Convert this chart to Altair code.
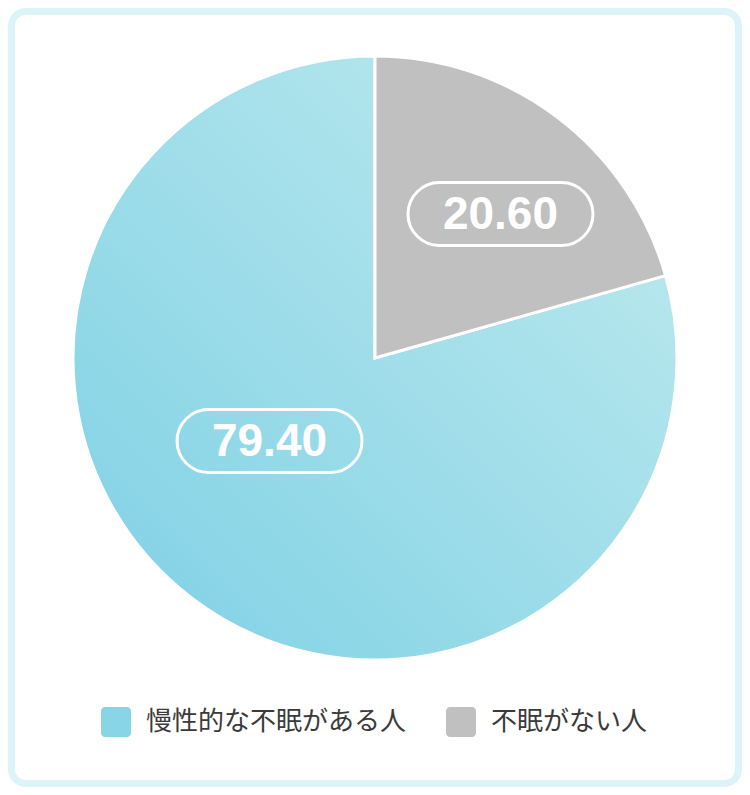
import math
import altair as alt
import pandas as pd

# ---------------- data ----------------
categories = ["慢性的な不眠がある人", "不眠がない人"]
values = [79.40, 20.60]
value_labels = ["79.40", "20.60"]
slice_order = [2, 1]          # grey slice starts at 12 o'clock
legend_colors = ["#87d5e7", "#c0c0c0"]

# ---------------- layout / style ----------------
W, H = 734, 779
CX, CY, R = 367, 350, 302
LABEL_R = 165
label_nudge = {"慢性的な不眠がある人": (-6, -48.6), "不眠がない人": (26, -12.4)}
PILL_W, PILL_H = 185, 63

grad = {
    "gradient": "linear",
    "x1": 1, "y1": 0, "x2": 0, "y2": 1,
    "stops": [
        {"offset": 0, "color": "#c2ebee"},
        {"offset": 1, "color": "#7dd0e5"},
    ],
}

df = pd.DataFrame({"category": categories, "value": values,
                   "label": value_labels, "slice_order": slice_order})

# label positions derived from the slice mid-angles
total = sum(values)
ordered = df.sort_values("slice_order")
start = 0.0
mid = {}
for _, r in ordered.iterrows():
    mid[r["category"]] = (start + r["value"] / 2) / total * 2 * math.pi
    start += r["value"]
df["lx"] = [CX + LABEL_R * math.sin(mid[c]) + label_nudge[c][0] for c in df["category"]]
df["ly"] = [CY - LABEL_R * math.cos(mid[c]) + label_nudge[c][1] for c in df["category"]]

base = alt.Chart(df)

border = alt.Chart(alt.Data(values=[{"a": 1}])).mark_rect(
    cornerRadius=14, fill="white", stroke="#dcf3f8", strokeWidth=7
).encode(x=alt.value(3.5), x2=alt.value(W - 3.5), y=alt.value(3.5), y2=alt.value(H - 3.5))

arcs = base.mark_arc(radius=R, stroke="white", strokeWidth=3).encode(
    theta=alt.Theta("value:Q", stack=True),
    order=alt.Order("slice_order:Q"),
    fill=alt.condition(alt.datum.category == categories[0],
                       alt.value(grad), alt.value("#c0c0c0")),
    x=alt.value(CX),
    y=alt.value(CY),
)

pills = base.transform_calculate(
    x0=f"datum.lx - {PILL_W / 2}", x1=f"datum.lx + {PILL_W / 2}",
    y0=f"datum.ly - {PILL_H / 2}", y1=f"datum.ly + {PILL_H / 2}",
).mark_rect(cornerRadius=PILL_H / 2, fill="white", fillOpacity=0,
            stroke="white", strokeWidth=3).encode(
    x=alt.X("x0:Q", scale=None, axis=None),
    x2="x1:Q",
    y=alt.Y("y0:Q", scale=None, axis=None),
    y2="y1:Q",
)

texts = base.mark_text(font="Liberation Sans", fontWeight="bold", fontSize=46,
                       color="white", align="center", baseline="middle", dy=1).encode(
    x=alt.X("lx:Q", scale=None, axis=None),
    y=alt.Y("ly:Q", scale=None, axis=None),
    text="label:N",
)

rounded_sq = ("M -1 -0.73 A 0.27 0.27 0 0 1 -0.73 -1 L 0.73 -1 "
              "A 0.27 0.27 0 0 1 1 -0.73 L 1 0.73 A 0.27 0.27 0 0 1 0.73 1 "
              "L -0.73 1 A 0.27 0.27 0 0 1 -1 0.73 Z")

legend_layer = base.mark_point(filled=True, opacity=0, size=1).encode(
    color=alt.Color("category:N",
                    scale=alt.Scale(domain=categories, range=legend_colors),
                    legend=alt.Legend(
                        title=None, orient="none", legendX=93, legendY=699,
                        direction="horizontal", symbolType=rounded_sq,
                        symbolSize=900, symbolOpacity=1, symbolStrokeWidth=0,
                        labelFont="Noto Sans CJK JP", labelFontSize=26,
                        labelColor="#3a3a3a", labelOffset=15, labelLimit=400,
                        columnPadding=38, padding=0)),
)

chart = alt.layer(border, arcs, pills, texts, legend_layer).properties(
    width=W, height=H, padding=0,
    autosize=alt.AutoSizeParams(type="fit", contains="padding"),
).configure_view(stroke=None)

chart.save("out.html", embed_options={"renderer": "svg", "actions": False})
